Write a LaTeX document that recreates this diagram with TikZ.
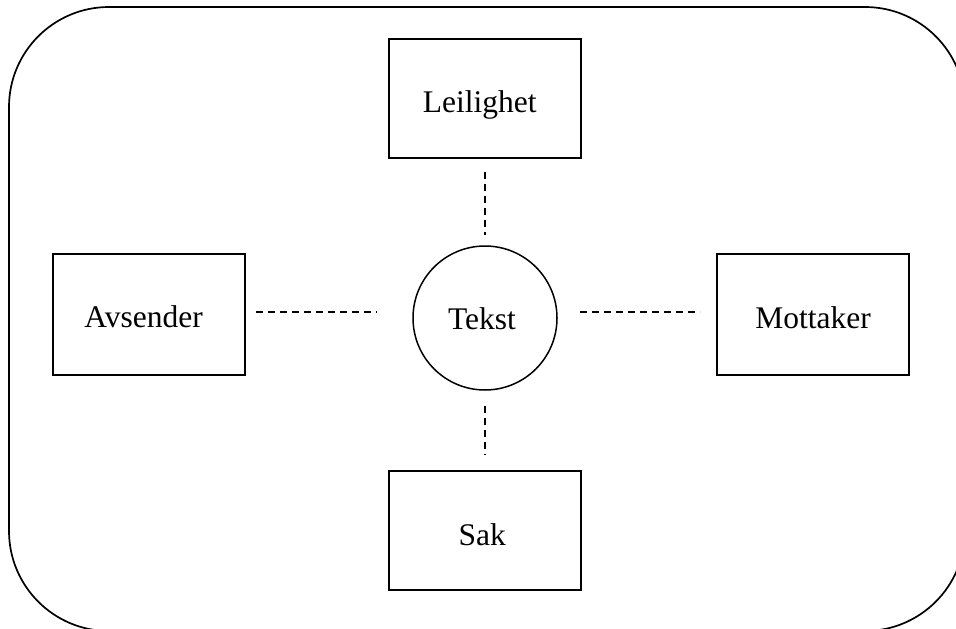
\documentclass[tikz,border=0pt]{standalone}
\usepackage{fontspec}
\setmainfont{Liberation Serif}
\begin{document}
\begin{tikzpicture}[x=1pt,y=1pt,
  frame/.style={draw=black,line width=1.7pt,rounded corners=100pt},
  box/.style={draw=black,line width=1.9pt,minimum width=192pt,minimum height=120pt,inner sep=0pt,outer sep=0pt},
  hub/.style={draw=black,line width=1.5pt,circle,minimum size=144pt,inner sep=0pt,outer sep=0pt},
  txt/.style={anchor=base,inner sep=0pt,font=\fontsize{31.5}{36}\selectfont},
  link/.style={draw=black,line width=1.4pt,dash pattern=on 7pt off 5pt}]
  \useasboundingbox (0,0) rectangle (956,-629);
  % outer rounded frame (runs off the page at right and bottom)
  \draw[frame] (9,-7) rectangle (965,-631);

  % boxes and central circle
  \node[box,minimum height=119pt] (leil) at (485,-98.5) {};
  \node[box,minimum height=121pt] (avs)  at (149,-314.5) {};
  \node[box,minimum height=121pt] (mot)  at (813,-314.5) {};
  \node[box,minimum height=119pt] (sak)  at (485,-530.5) {};
  \node[hub] (tekst) at (485,-318) {};

  % labels
  \node[txt] (leilT)  at ([xshift=-5.3pt,yshift=-14.2pt]leil.center) {Leilighet};
  \node[txt] (avsT)   at ([xshift=-5.4pt,yshift=-12.5pt]avs.center) {Avsender};
  \node[txt] (motT)   at ([yshift=-13.5pt]mot.center) {Mottaker};
  \node[txt] (sakT)   at ([xshift=-2.7pt,yshift=-14.5pt]sak.center) {Sak};
  \node[txt] (tekstT) at ([xshift=-3pt,yshift=-11.3pt]tekst.center) {Tekst};

  % dashed connectors
  \draw[link,shorten <=14pt,shorten >=11pt] (leil.south) -- (tekst.north);
  \draw[link,shorten <=16pt,shorten >=16pt] (tekst.south) -- (sak.north);
  \draw[link,shorten <=11pt,shorten >=36pt]
    ([yshift=2.5pt]avs.east) -- ([yshift=2.5pt]avs.east -| tekst.west);
  \draw[link,shorten <=23pt,shorten >=17pt]
    ([yshift=2.5pt]mot.west -| tekst.east) -- ([yshift=2.5pt]mot.west);
\end{tikzpicture}
\end{document}
